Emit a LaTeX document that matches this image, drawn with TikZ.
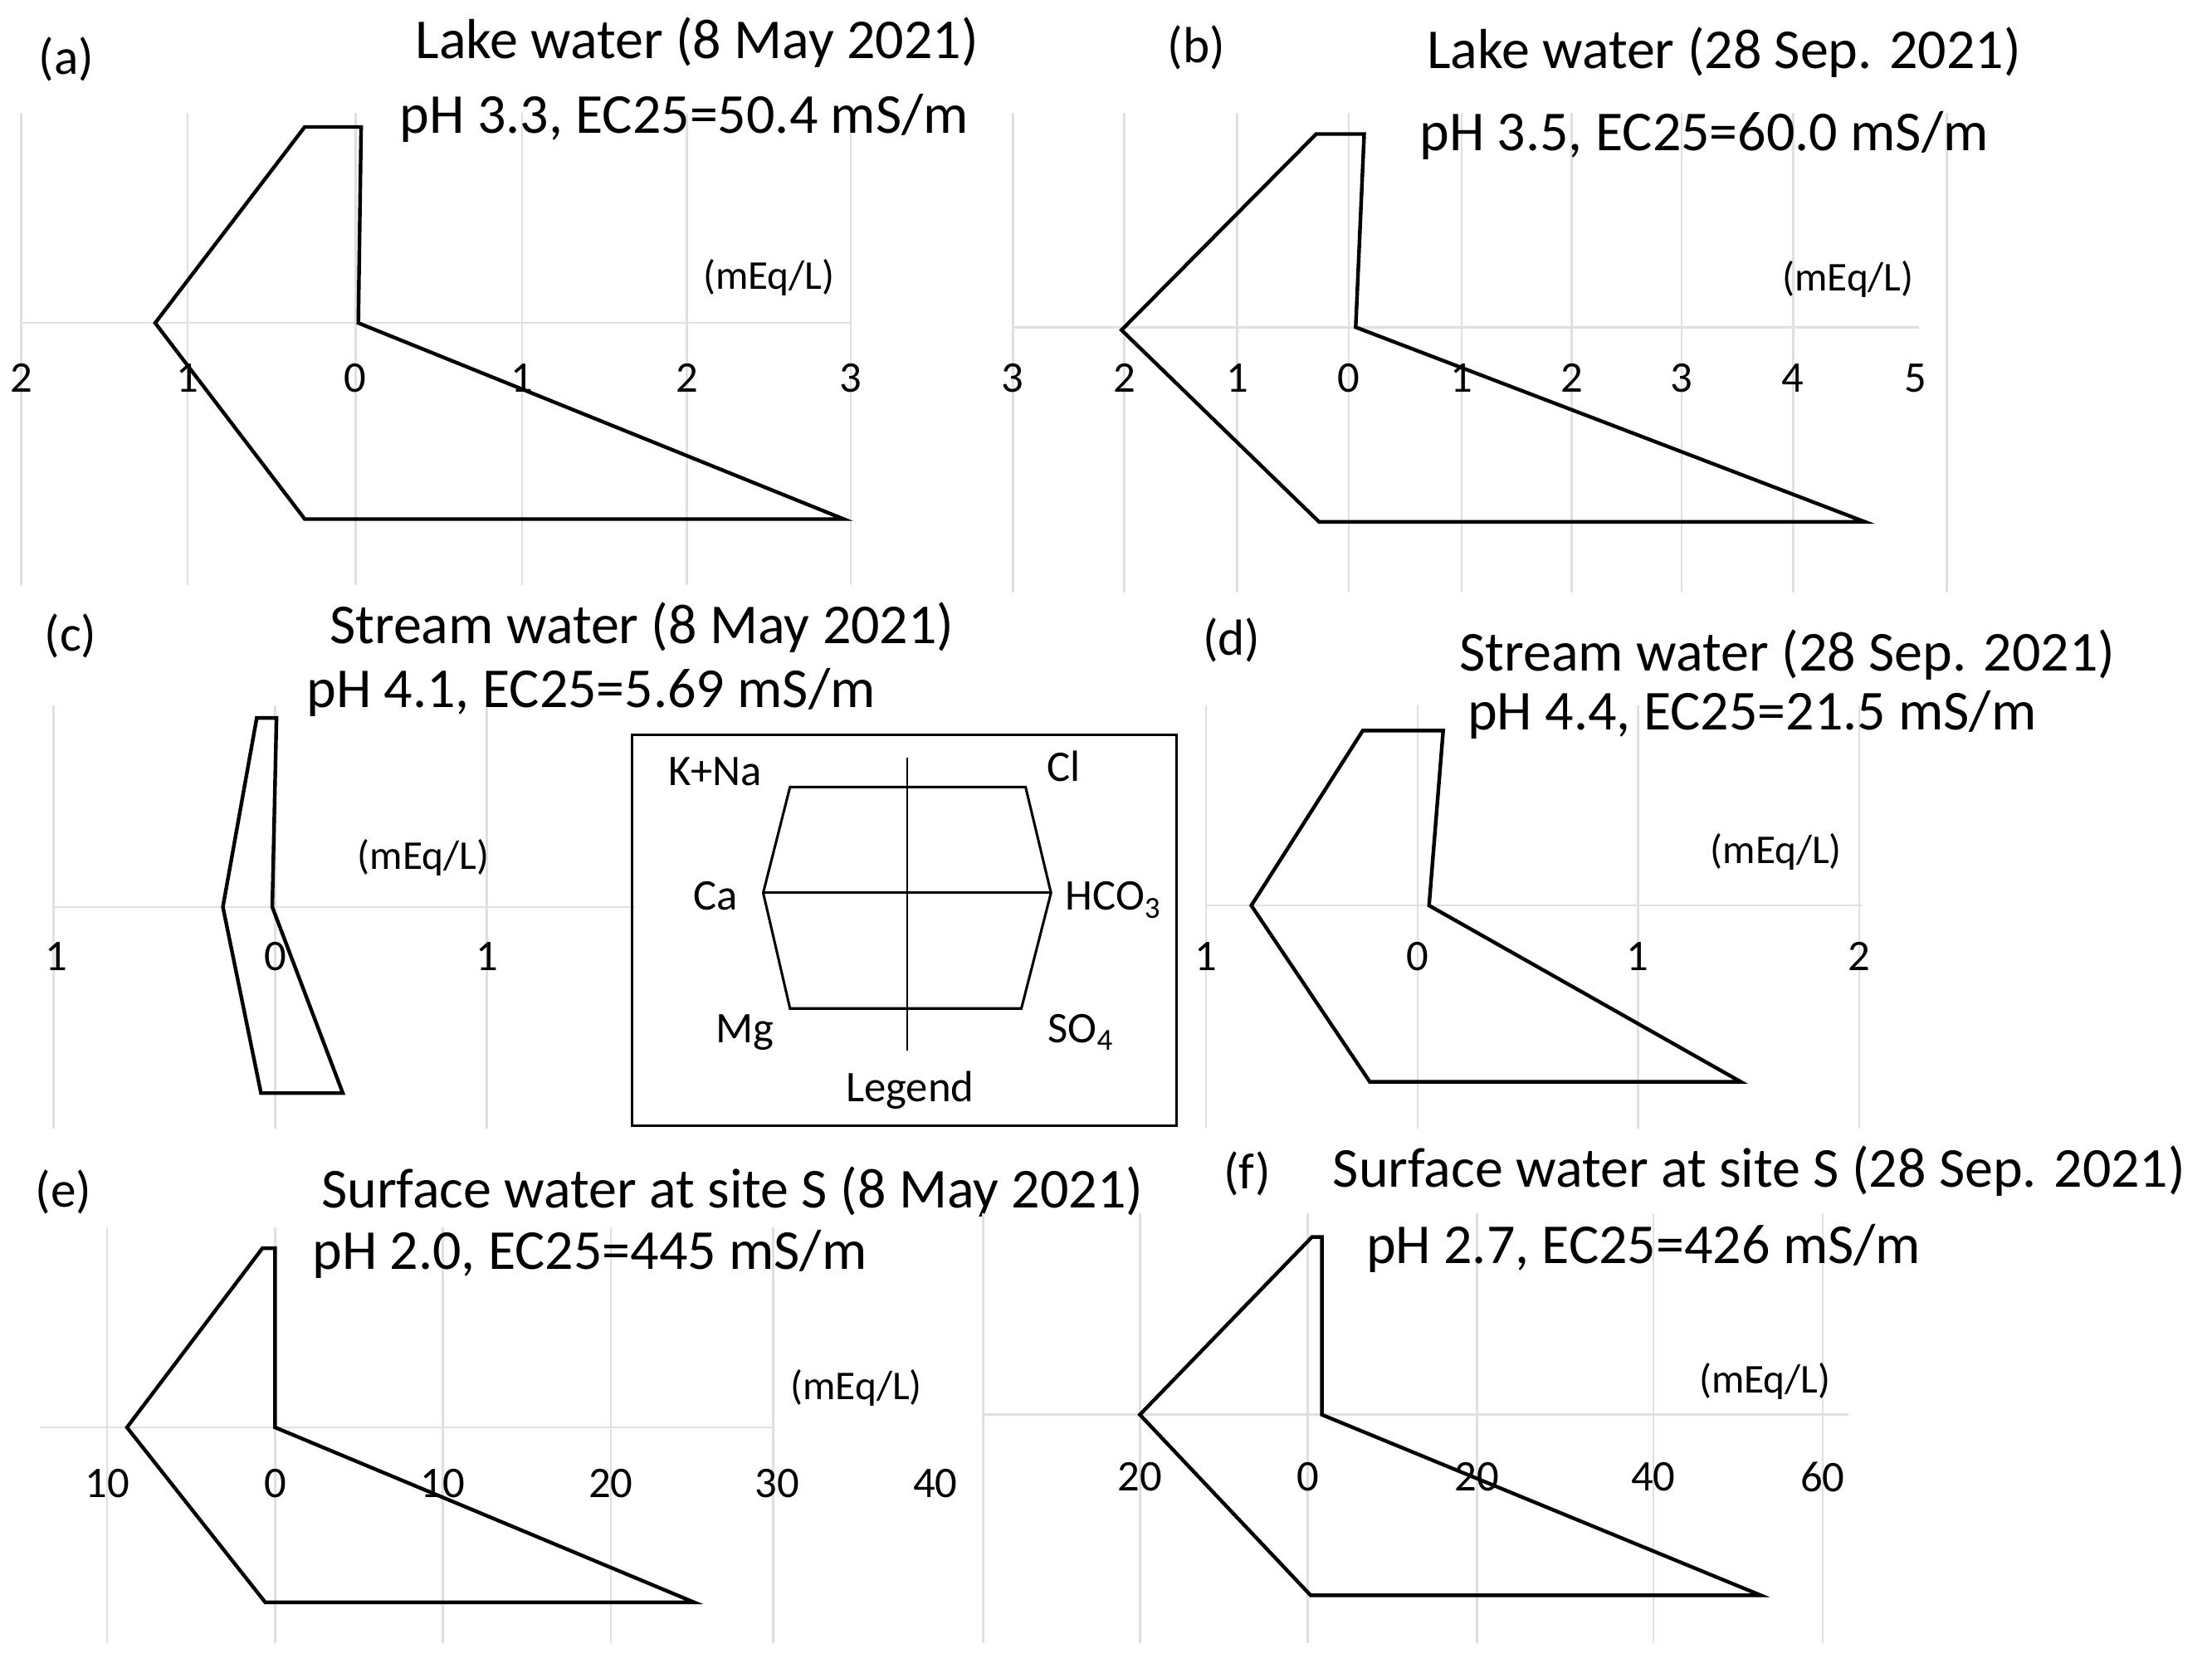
\documentclass[tikz,border=0pt]{standalone}
\usepackage{fontspec}
\setmainfont{Carlito}
\begin{document}
\begin{tikzpicture}[x=1pt,y=-1pt,
 poly/.style={line width=2.6pt,line join=miter},
 grid/.style={draw=black!12,line width=1.5pt},
 ttl/.style={font=\fontsize{40}{42}\selectfont},
 lab/.style={font=\fontsize{36}{38}\selectfont},
 tck/.style={font=\fontsize{31}{33}\selectfont},
 unit/.style={font=\fontsize{29}{31}\selectfont},
 lg/.style={font=\fontsize{31}{33}\selectfont}]
\useasboundingbox (0,0) rectangle (1568,1186);
% panel a
\foreach \x in {15,133,252,370,487,603} \draw[grid] (\x,80) -- (\x,415);
\draw[grid] (15,229) -- (603,229);
\foreach \x/\l in {15/2,133/1,252/0,370/1,487/2,603/3} \node[tck] (ta\x) at (\x,268) {\l};
\draw[poly] (216,90) -- (256,90) -- (254,229) -- (598,368) -- (216,368) -- (110,229) -- cycle;
\node[lab] (la) at (47,42) {(a)};
\node[ttl] (ta) at (494,30) {Lake water (8 May 2021)};
\node[ttl] (pa) at (485,84) {pH 3.3, EC25=50.4 mS/m};
\node[unit] (ua) at (545,197) {(mEq/L)};
% panel b
\foreach \x in {718,797,877,956,1036,1114,1192,1271,1380} \draw[grid] (\x,80) -- (\x,420);
\draw[grid] (718,232) -- (1360,232);
\foreach \x/\l in {718/3,797/2,877/1,956/0,1036/1,1114/2,1192/3,1271/4,1358/5} \node[tck] (tb\x) at (\x,268) {\l};
\draw[poly] (933,95) -- (967,95) -- (961,232) -- (1322,370) -- (935,370) -- (795,234) -- cycle;
\node[lab] (lb) at (848,34) {(b)};
\node[ttl] (tb) at (1222,37) {Lake water (28 Sep. 2021)};
\node[ttl] (pb) at (1208,96) {pH 3.5, EC25=60.0 mS/m};
\node[unit] (ub) at (1310,198) {(mEq/L)};
% panel c
\foreach \x in {38,195,345} \draw[grid] (\x,500) -- (\x,800);
\draw[grid] (38,643) -- (450,643);
\foreach \x/\l in {40/1,195/0,345/1} \node[tck] (tc\x) at (\x,678) {\l};
\draw[poly] (182,509) -- (196,509) -- (193,643) -- (243,775) -- (185,775) -- (158,643) -- cycle;
\node[lab] (lc) at (50,451) {(c)};
\node[ttl] (tc) at (455,445) {Stream water (8 May 2021)};
\node[ttl] (pc) at (419,491) {pH 4.1, EC25=5.69 mS/m};
\node[unit] (uc) at (300,608) {(mEq/L)};
% legend
\draw[line width=1.5pt] (448,521) rectangle (834,798);
\draw[line width=1.8pt] (560,558) -- (727,558) -- (745,633) -- (724,715) -- (560,715) -- (541,633) -- cycle;
\draw[line width=1.8pt] (541,633) -- (745,633);
\draw[line width=1.5pt] (643,537) -- (643,745);
\node[lg] (kna) at (507,547) {K+Na};
\node[lg] (cl) at (754,543) {Cl};
\node[lg] (ca) at (507,635) {Ca};
\node[lg] (hco) at (789,638) {HCO\textsubscript{3}};
\node[lg] (mg) at (528,732) {Mg};
\node[lg] (so) at (766,732) {SO\textsubscript{4}};
\node[lg] (leg) at (645,773) {Legend};
% panel d
\foreach \x in {855,1005,1161,1318} \draw[grid] (\x,500) -- (\x,800);
\draw[grid] (855,642) -- (1320,642);
\foreach \x/\l in {855/1,1005/0,1161/1,1318/2} \node[tck] (td\x) at (\x,678) {\l};
\draw[poly] (966,518) -- (1023,518) -- (1013,642) -- (1234,767) -- (971,767) -- (887,642) -- cycle;
\node[lab] (ld) at (873,454) {(d)};
\node[ttl] (tdd) at (1267,464) {Stream water (28 Sep. 2021)};
\node[ttl] (pd) at (1242,507) {pH 4.4, EC25=21.5 mS/m};
\node[unit] (ud) at (1259,604) {(mEq/L)};
% panel e
\foreach \x in {76,195,314,433,548} \draw[grid] (\x,870) -- (\x,1165);
\draw[grid] (28,1012) -- (548,1012);
\foreach \x/\l in {76/10,195/0,314/10,433/20,551/30,663/40} \node[tck] (te\x) at (\x,1052) {\l};
\draw[poly] (186,885) -- (195,885) -- (195,1012) -- (492,1136) -- (188,1136) -- (90,1012) -- cycle;
\node[lab] (le) at (45,845) {(e)};
\node[ttl] (te) at (519,845) {Surface water at site S (8 May 2021)};
\node[ttl] (pe) at (418,889) {pH 2.0, EC25=445 mS/m};
\node[unit] (ue) at (607,984) {(mEq/L)};
% panel f
\foreach \x in {697,808,927,1047,1172,1292} \draw[grid] (\x,860) -- (\x,1165);
\draw[grid] (697,1003) -- (1310,1003);
\foreach \x/\l in {808/20,927/0,1047/20,1172/40,1292/60} \node[tck] (tf\x) at (\x,1047) {\l};
\draw[poly] (930,877) -- (937,877) -- (937,1003) -- (1248,1131) -- (929,1131) -- (808,1003) -- cycle;
\node[lab] (lf) at (884,832) {(f)};
\node[ttl] (tf) at (1247,830) {Surface water at site S (28 Sep. 2021)};
\node[ttl] (pf) at (1165,885) {pH 2.7, EC25=426 mS/m};
\node[unit] (uf) at (1251,979) {(mEq/L)};
\end{tikzpicture}
\end{document}
